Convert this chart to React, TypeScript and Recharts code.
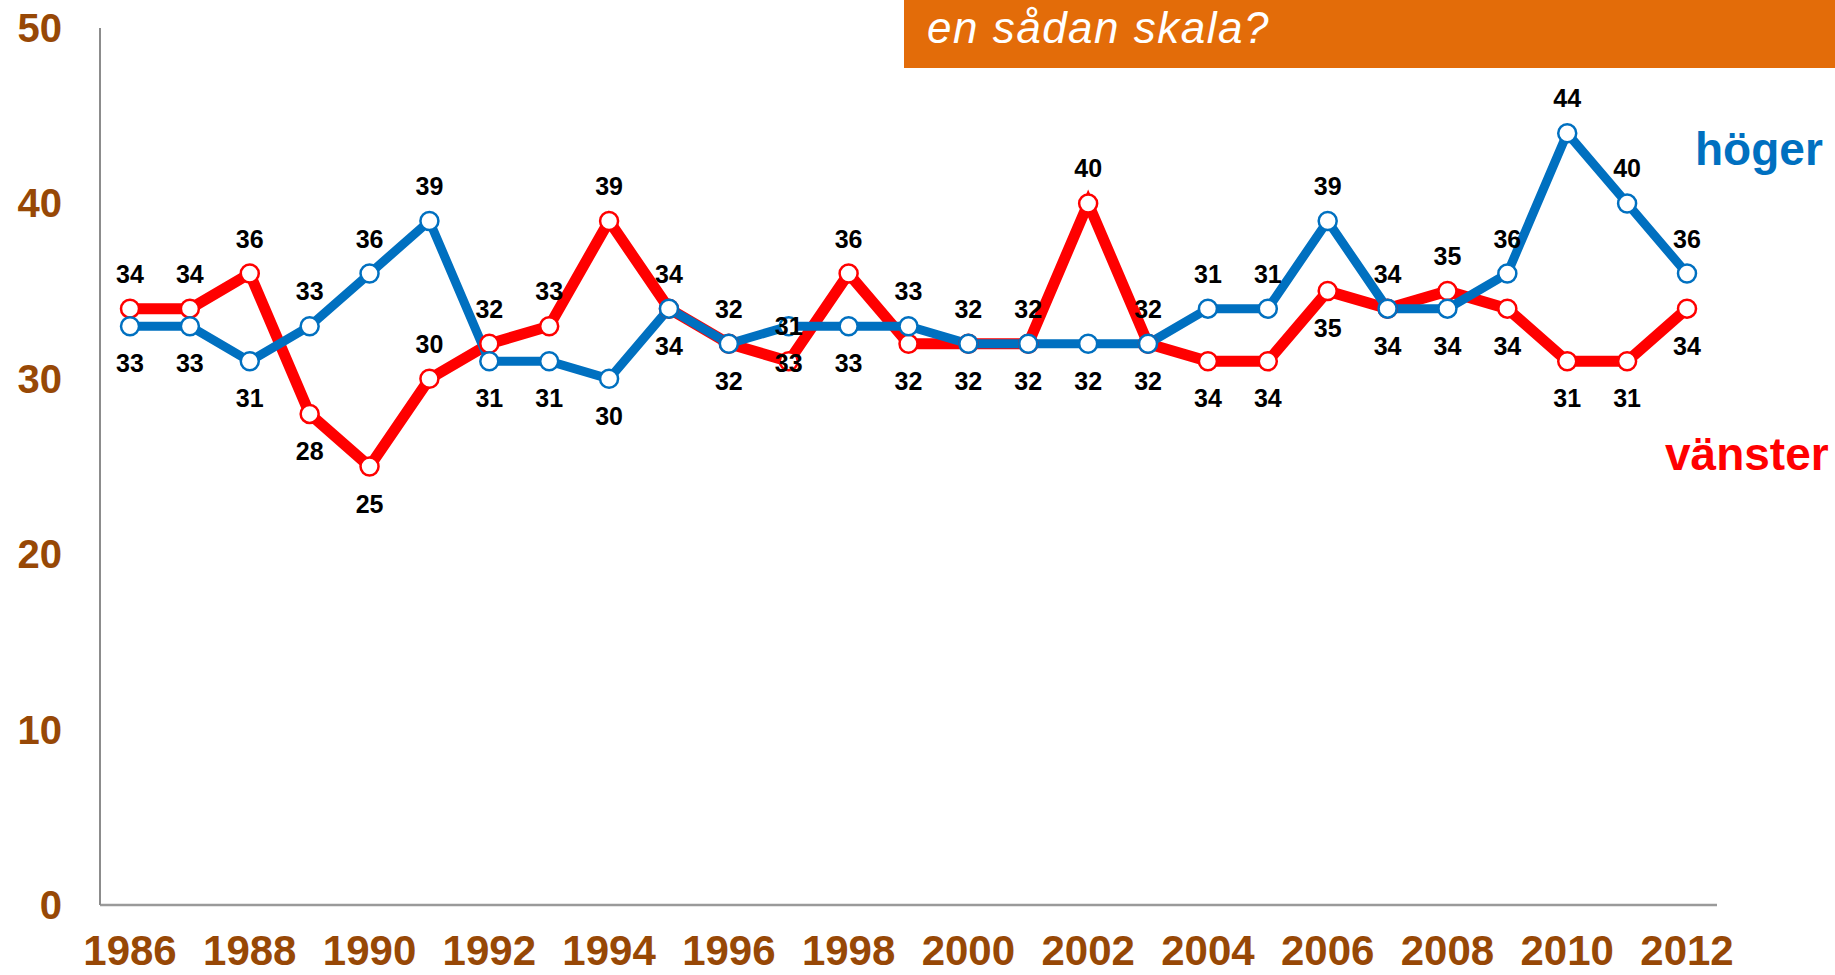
import React from 'react';
import { LineChart, Line, XAxis, YAxis } from 'recharts';

const years = ['1986','1987','1988','1989','1990','1991','1992','1993','1994','1995','1996','1997','1998','1999','2000','2001','2002','2003','2004','2005','2006','2007','2008','2009','2010','2011','2012'];
const vanster = [34,34,36,28,25,30,32,33,39,34,32,31,36,32,32,32,40,32,31,31,35,34,35,34,31,31,34];
const hoger = [33,33,31,33,36,39,31,31,30,34,32,33,33,33,32,32,32,32,34,34,39,34,34,36,44,40,36];
const vansterLabels = ['34','34','36','28','25','30','32','33','39','34','32','31','36','32','32','32','40','32','34','34','35','34','35','34','31','31','34'];
const hogerLabels = ['33','33','31','33','36','39','31','31','30','34','32','33','33','33','32','32','32','32','31','31','39','34','34','36','44','40','36'];
const yTicks = [0, 10, 20, 30, 40, 50];
const titleText = 'en sådan skala?';
const hogerName = 'höger';
const vansterName = 'vänster';

// label placement config (1 = above the point, 0 = below)
const vansterAbove = [1,1,1,0,0,1,1,1,1,1,1,1,1,0,0,0,1,0,0,0,0,0,1,0,0,0,0];
const hogerAbove = [0,0,0,1,1,1,0,0,0,0,0,0,0,1,1,1,0,1,1,1,1,1,0,1,1,1,1];

const data = years.map((y, i) => ({ year: y, vanster: vanster[i], hoger: hoger[i] }));

const RED = '#FF0000';
const BLUE = '#0070C0';
const BROWN = '#974806';
const ORANGE = '#E36C09';
const FONT = '"Liberation Sans", Arial, Helvetica, sans-serif';

const makeLabel = (texts: string[], above: number[]) => (props: any) => {
  const { x, y, index } = props;
  if (x == null || y == null) return null;
  const a = above[index];
  return (
    <text
      key={'l' + index}
      x={x}
      y={a ? y - 26 : y + 46}
      textAnchor="middle"
      fontFamily={FONT}
      fontWeight="bold"
      fontSize={25}
      fill="#000"
    >
      {texts[index]}
    </text>
  );
};

const XTick = (props: any) => {
  const { x, payload } = props;
  return (
    <text x={x} y={965} textAnchor="middle" fontFamily={FONT} fontWeight="bold" fontSize={42} fill={BROWN}>
      {payload.value}
    </text>
  );
};

const YTick = (props: any) => {
  const { y, payload } = props;
  return (
    <text x={62} y={y + 14} textAnchor="end" fontFamily={FONT} fontWeight="bold" fontSize={40} fill={BROWN}>
      {payload.value}
    </text>
  );
};

export default function App() {
  return (
    <div style={{ position: 'absolute', left: 0, top: 0, width: 1835, height: 975, background: '#fff' }}>
      <LineChart width={1835} height={975} data={data} margin={{ top: 28, right: 118, bottom: 0, left: 0 }}>
        <XAxis
          dataKey="year"
          interval={1}
          tickLine={false}
          padding={{ left: 30, right: 30 }}
          axisLine={{ stroke: '#9a9a9a', strokeWidth: 2.5 }}
          tick={<XTick />}
          height={70}
        />
        <YAxis
          domain={[0, 50]}
          ticks={yTicks}
          tickLine={false}
          axisLine={{ stroke: '#8c8c8c', strokeWidth: 2 }}
          tick={<YTick />}
          width={100}
        />
        <Line dataKey="vanster" stroke={RED} strokeWidth={11} dot={false} activeDot={false} isAnimationActive={false} />
        <Line dataKey="hoger" stroke={BLUE} strokeWidth={9} dot={false} activeDot={false} isAnimationActive={false} />
        <Line dataKey="vanster" stroke="none" dot={{ r: 9, fill: '#fff', stroke: RED, strokeWidth: 2.5 }} activeDot={false} isAnimationActive={false} />
        <Line dataKey="hoger" stroke="none" dot={{ r: 9, fill: '#fff', stroke: BLUE, strokeWidth: 2.5 }} activeDot={false} isAnimationActive={false} />
        <Line dataKey="vanster" stroke="none" dot={false} activeDot={false} isAnimationActive={false} label={makeLabel(vansterLabels, vansterAbove)} />
        <Line dataKey="hoger" stroke="none" dot={false} activeDot={false} isAnimationActive={false} label={makeLabel(hogerLabels, hogerAbove)} />
      </LineChart>
      <svg width={1835} height={975} style={{ position: 'absolute', left: 0, top: 0, pointerEvents: 'none' }}>
        <rect x={904} y={0} width={931} height={68} fill={ORANGE} />
        <text x={927} y={43} fontFamily={FONT} fontStyle="italic" fontSize={44} letterSpacing={1.5} fill="#fff">
          {titleText}
        </text>
        <text x={1695} y={165} fontFamily={FONT} fontWeight="bold" fontSize={46} fill={BLUE}>
          {hogerName}
        </text>
        <text x={1665} y={470} fontFamily={FONT} fontWeight="bold" fontSize={46} fill={RED}>
          {vansterName}
        </text>
      </svg>
    </div>
  );
}
